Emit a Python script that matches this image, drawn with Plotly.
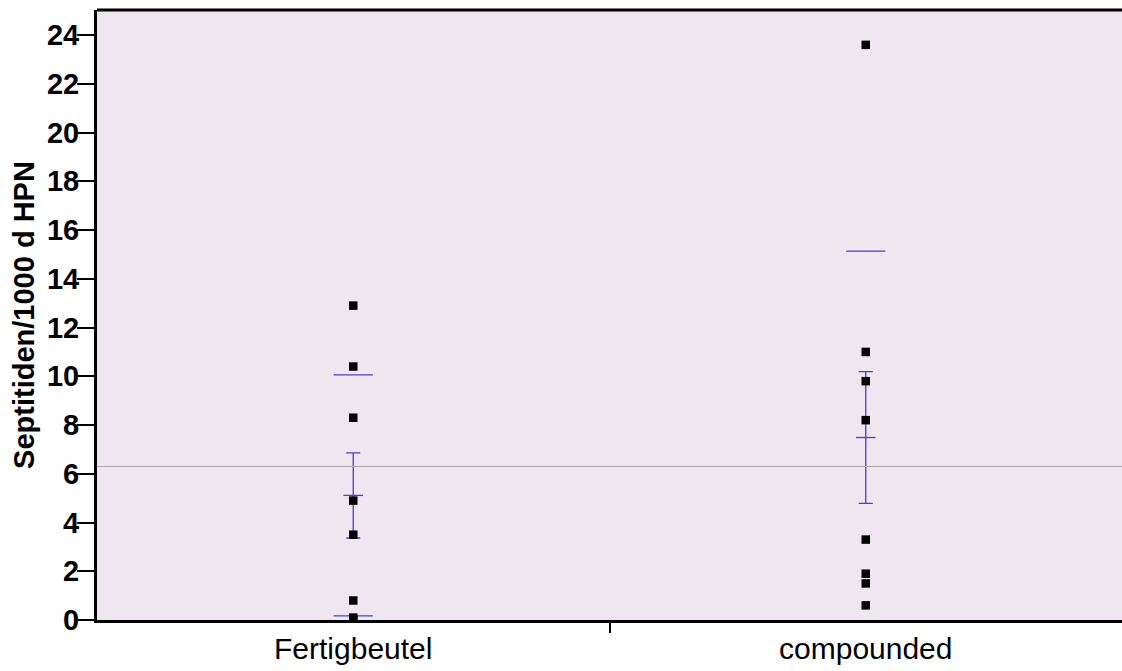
import numpy as np
import plotly.graph_objects as go

categories = ["Fertigbeutel", "compounded"]
fertigbeutel = [12.9, 10.4, 8.3, 4.9, 3.5, 0.8, 0.1, 0.0]
compounded = [23.6, 11.0, 9.8, 8.2, 3.3, 1.9, 1.5, 0.6]
y_ticks = list(range(0, 25, 2))
y_title = "Septitiden/1000 d HPN"

groups = [fertigbeutel, compounded]
means = [float(np.mean(g)) for g in groups]
sds = [float(np.std(g, ddof=1)) for g in groups]
ses = [s / np.sqrt(len(g)) for s, g in zip(sds, groups)]
grand_mean = float(np.mean(fertigbeutel + compounded))

BLUE = "#4F3BD0"
FONT = "Liberation Sans, Arial, sans-serif"

fig = go.Figure()

# mean +/- SD lines
for c, m, s in zip(categories, means, sds):
    fig.add_trace(go.Scatter(
        x=[c, c], y=[m + s, m - s], mode="markers",
        marker=dict(symbol="line-ew", size=28, line=dict(color=BLUE, width=1.3)),
        showlegend=False, hoverinfo="skip"))

# mean with SE error bars
fig.add_trace(go.Scatter(
    x=categories, y=means, mode="markers",
    marker=dict(symbol="line-ew", size=14, line=dict(color=BLUE, width=1.3)),
    error_y=dict(type="data", array=ses, visible=True, color=BLUE, thickness=1.3, width=7),
    showlegend=False))

# data points
for c, g in zip(categories, groups):
    fig.add_trace(go.Scatter(
        x=[c] * len(g), y=g, mode="markers",
        marker=dict(symbol="square", size=8.5, color="black"),
        showlegend=False))

# invisible trace so the overlay axis (category divider tick) is rendered
fig.add_trace(go.Scatter(
    x=[0.5], y=[grand_mean], xaxis="x2", yaxis="y", mode="markers",
    marker=dict(opacity=0, size=1), showlegend=False, hoverinfo="skip"))

fig.add_hline(y=grand_mean, line=dict(color="#AAAAAA", width=1))

# top frame line
fig.add_shape(type="line", xref="paper", yref="paper", x0=0, x1=1, y0=1, y1=1,
              line=dict(color="black", width=3))

fig.update_layout(
    width=1122, height=671,
    margin=dict(l=97, r=0, t=10, b=51),
    paper_bgcolor="white",
    plot_bgcolor="#EFE7EF",
    font=dict(family=FONT, color="black"),
    xaxis=dict(
        type="category", categoryorder="array", categoryarray=categories,
        range=[-0.5, 1.5], showgrid=False, zeroline=False,
        showline=True, linecolor="black", linewidth=3,
        ticks="", tickfont=dict(size=30, family=FONT),
    ),
    xaxis2=dict(
        overlaying="x", anchor="y", side="bottom", range=[-0.5, 1.5],
        tickmode="array", tickvals=[0.5], showticklabels=False,
        ticks="outside", ticklen=12, tickwidth=2, tickcolor="black",
        showgrid=False, zeroline=False, showline=False,
    ),
    yaxis=dict(
        range=[0, 25.03], tickmode="array", tickvals=y_ticks,
        showgrid=False, zeroline=False,
        showline=True, linecolor="black", linewidth=3,
        ticks="outside", ticklen=17, tickwidth=2, tickcolor="black",
        ticklabelstandoff=-8,
        tickfont=dict(size=29, family=FONT, weight="bold"),
        title=dict(text=y_title, standoff=4,
                   font=dict(size=29, family=FONT, weight="bold")),
    ),
)

fig.write_html("out.html", config={"displayModeBar": False})
